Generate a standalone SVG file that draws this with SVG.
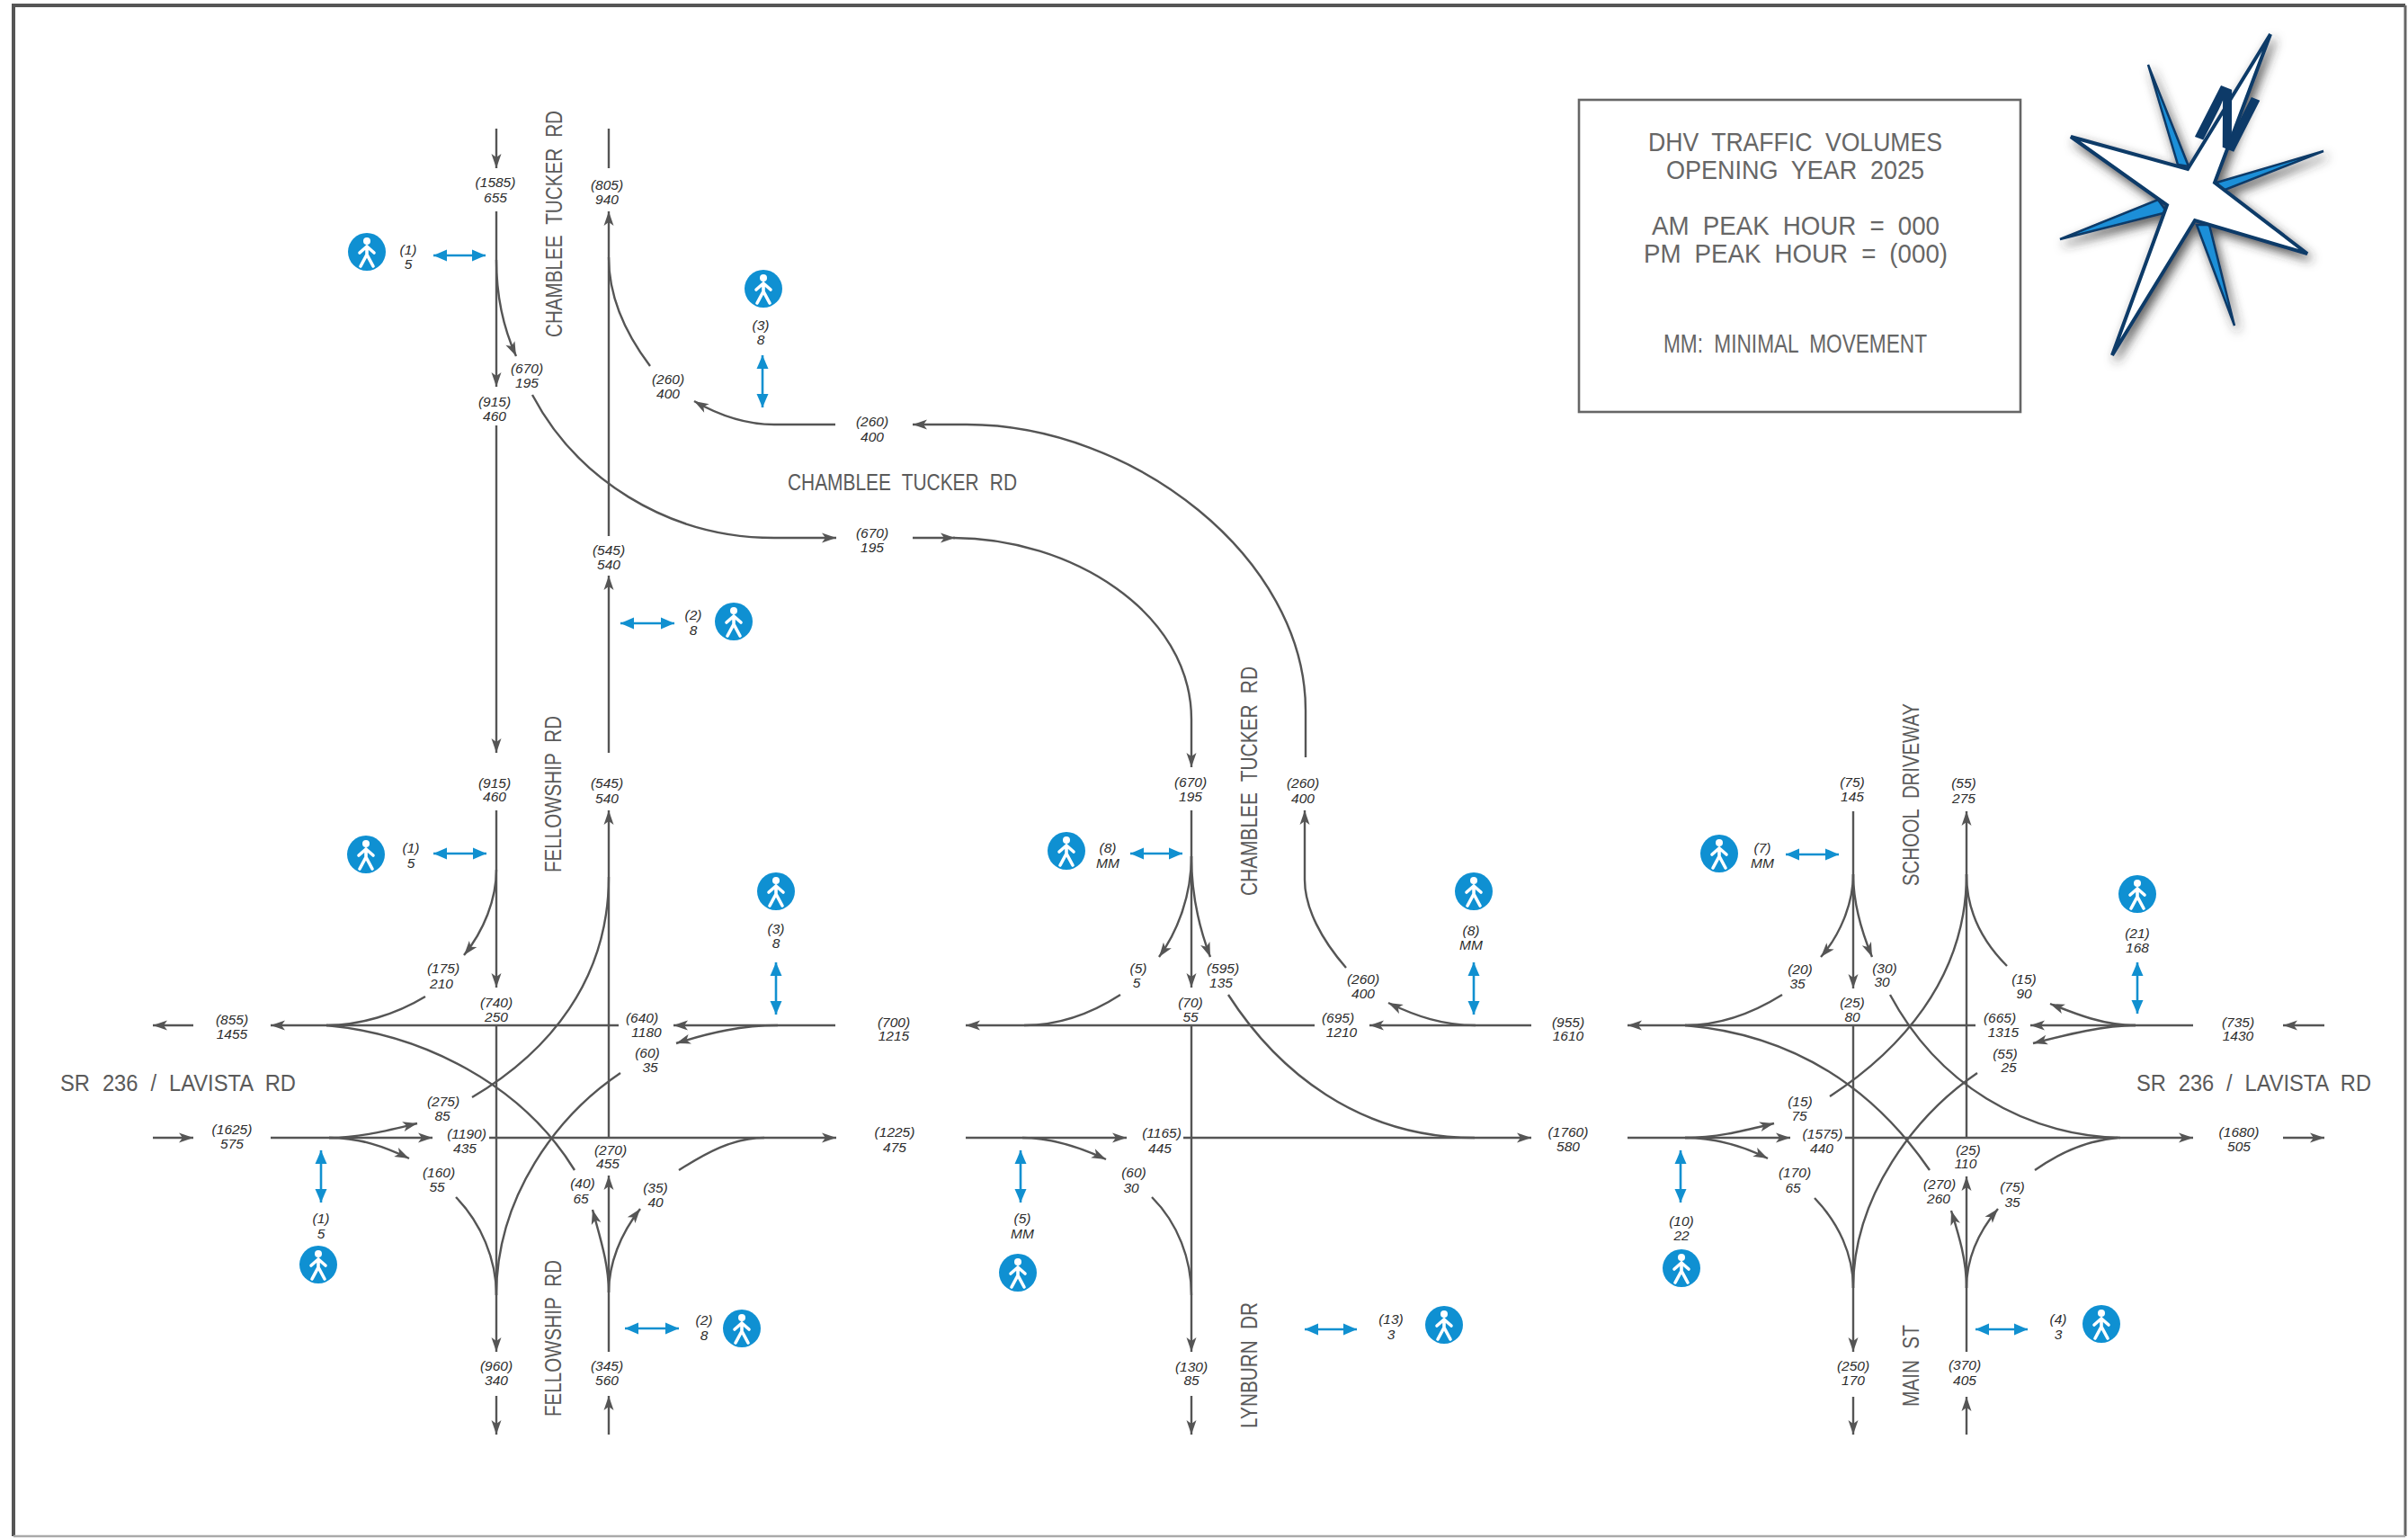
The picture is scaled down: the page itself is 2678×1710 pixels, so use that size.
<svg xmlns="http://www.w3.org/2000/svg" xmlns:xlink="http://www.w3.org/1999/xlink" width="2678" height="1710" viewBox="0 0 2678 1710">
<style>
.c{fill:none;stroke:#555;stroke-width:2.4}
.a{marker-end:url(#ah)}
.b{fill:none;stroke:#1190d0;stroke-width:2.6;marker-start:url(#bh);marker-end:url(#bh)}
.v{font:italic 15.5px "Liberation Sans",Arial,sans-serif;fill:#2c2c2c;text-anchor:middle}
.r{font:26px "Liberation Sans",Arial,sans-serif;fill:#5a5a5a;word-spacing:8px}
.t{font:30px "Liberation Sans",Arial,sans-serif;fill:#666;word-spacing:8px}
</style>
<defs>
<marker id="ah" viewBox="-17 -6 18 12" refX="0" refY="0" markerUnits="userSpaceOnUse" markerWidth="18" markerHeight="12" orient="auto"><path d="M0,0L-16,-5.5L-12,0L-16,5.5z" fill="#555"/></marker>
<marker id="bh" viewBox="-16 -7 17 14" refX="0" refY="0" markerUnits="userSpaceOnUse" markerWidth="17" markerHeight="14" orient="auto-start-reverse"><path d="M0,0L-15,-6.5L-15,6.5z" fill="#1190d0"/></marker>
<g id="ped"><circle r="21" fill="#0f90d2"/><circle cx="0" cy="-12" r="4" fill="#fff"/><path d="M0,-6L0,3M0,-6L-8,1M0,-6L8,1M0,3L-7,16M0,3L7,16" stroke="#fff" stroke-width="3.6" fill="none" stroke-linecap="round"/></g>
<filter id="sh" x="-20%" y="-20%" width="140%" height="140%"><feDropShadow dx="4" dy="6" stdDeviation="6" flood-color="#333" flood-opacity=".8"/></filter>
</defs>
<rect width="2678" height="1710" fill="#fff"/>
<g id="frame">
<path d="M15,1708L15,6L2675,6" fill="none" stroke="#555" stroke-width="4"/>
<path d="M2675,6L2675,1708" fill="none" stroke="#666" stroke-width="3"/>
<path d="M15,1708L2675,1708" fill="none" stroke="#aaa" stroke-width="2.5"/>
</g>
<g id="connectors">
<g id="north">
<path class="c a" d="M552,143L552,187"/>
<path class="c a" d="M552,235L552,430"/>
<path class="c a" d="M552,289C552,330 560,365 574,396"/>
<path class="c a" d="M552,473L552,837"/>
<path class="c" d="M677,143L677,187"/>
<path class="c a" d="M677,596L677,235"/>
<path class="c" d="M723,407C695,370 677,330 677,286"/>
<path class="c a" d="M592,439C640,530 740,598 861,598L930,598"/>
<path class="c a" d="M1015,598L1062,598"/>
<path class="c a" d="M1060,598C1190,598 1325,680 1325,800L1325,853"/>
<path class="c a" d="M1451,978L1451,901"/>
<path class="c" d="M1497,1076C1470,1045 1451,1010 1451,978"/>
<path class="c a" d="M1452,842L1452,790C1452,620 1260,472 1075,472L1015,472"/>
<path class="c a" d="M929,472L861,472C830,472 800,462 772,446"/>
<path class="c a" d="M677,837L677,640"/>
</g>
<g id="west">
<path class="c a" d="M552,901L552,1098"/>
<path class="c a" d="M552,967C552,1000 538,1035 516,1062"/>
<path class="c" d="M473,1108C440,1128 400,1140 363,1140"/>
<path class="c a" d="M688,1140L301,1140"/>
<path class="c" d="M639,1301C580,1205 470,1150 363,1140"/>
<path class="c a" d="M929,1140L749,1140"/>
<path class="c a" d="M865,1140C825,1140 790,1148 752,1160"/>
<path class="c a" d="M544,1265L930,1265"/>
<path class="c" d="M850,1265C815,1265 785,1282 755,1301"/>
<path class="c a" d="M301,1265L481,1265"/>
<path class="c a" d="M366,1265C400,1265 430,1257 464,1249"/>
<path class="c a" d="M366,1265C400,1265 428,1275 455,1288"/>
<path class="c a" d="M215,1140L170,1140"/>
<path class="c a" d="M170,1265L215,1265"/>
<path class="c a" d="M552,1140L552,1503"/>
<path class="c" d="M690,1193C620,1240 552,1330 552,1440"/>
<path class="c" d="M507,1331C535,1360 552,1400 552,1440"/>
<path class="c a" d="M677,1503L677,1307"/>
<path class="c a" d="M677,1437C677,1405 667,1375 659,1345"/>
<path class="c a" d="M677,1437C677,1405 690,1372 712,1344"/>
<path class="c a" d="M677,1265L677,901"/>
<path class="c" d="M525,1220C610,1170 677,1090 677,975"/>
<path class="c a" d="M552,1552L552,1595"/>
<path class="c a" d="M677,1595L677,1552"/>
</g>
<g id="center">
<path class="c a" d="M1325,901L1325,1098"/>
<path class="c a" d="M1325,952C1325,995 1310,1035 1289,1064"/>
<path class="c a" d="M1325,952C1325,995 1333,1030 1346,1064"/>
<path class="c" d="M1246,1106C1212,1128 1175,1140 1139,1140"/>
<path class="c a" d="M1462,1140L1074,1140"/>
<path class="c a" d="M1703,1140L1523,1140"/>
<path class="c a" d="M1641,1140C1605,1140 1575,1130 1544,1115"/>
<path class="c a" d="M1325,1140L1325,1503"/>
<path class="c" d="M1366,1106C1420,1190 1510,1265 1640,1265"/>
<path class="c a" d="M1316,1265L1703,1265"/>
<path class="c a" d="M1074,1265L1253,1265"/>
<path class="c a" d="M1137,1265C1170,1265 1200,1275 1230,1289"/>
<path class="c" d="M1281,1331C1310,1360 1325,1400 1325,1440"/>
<path class="c a" d="M1325,1552L1325,1595"/>
</g>
<g id="east">
<path class="c a" d="M2061,902L2061,1099"/>
<path class="c a" d="M2061,972C2061,1005 2046,1040 2025,1064"/>
<path class="c a" d="M2061,972C2061,1005 2070,1035 2082,1064"/>
<path class="c a" d="M2187,1265L2187,902"/>
<path class="c" d="M2035,1219C2110,1170 2187,1090 2187,972"/>
<path class="c" d="M2187,972C2187,1015 2205,1047 2232,1074"/>
<path class="c" d="M2102,1106C2155,1205 2250,1262 2358,1265"/>
<path class="c a" d="M2197,1140L1810,1140"/>
<path class="c" d="M1982,1106C1950,1126 1915,1140 1874,1140"/>
<path class="c" d="M2146,1301C2080,1205 1990,1150 1874,1140"/>
<path class="c a" d="M2439,1140L2258,1140"/>
<path class="c a" d="M2375,1140C2340,1140 2310,1128 2280,1116"/>
<path class="c a" d="M2375,1140C2340,1140 2300,1150 2261,1160"/>
<path class="c a" d="M2585,1140L2539,1140"/>
<path class="c a" d="M1810,1265L1991,1265"/>
<path class="c a" d="M1874,1265C1910,1265 1940,1257 1973,1249"/>
<path class="c a" d="M1874,1265C1910,1265 1940,1275 1966,1288"/>
<path class="c a" d="M2052,1265L2439,1265"/>
<path class="c" d="M2263,1301C2290,1282 2320,1268 2355,1265"/>
<path class="c a" d="M2539,1265L2585,1265"/>
<path class="c a" d="M2061,1140L2061,1503"/>
<path class="c" d="M2199,1193C2130,1240 2061,1330 2061,1432"/>
<path class="c" d="M2018,1332C2045,1360 2061,1395 2061,1432"/>
<path class="c a" d="M2187,1503L2187,1308"/>
<path class="c a" d="M2187,1432C2187,1400 2178,1372 2170,1346"/>
<path class="c a" d="M2187,1432C2187,1400 2200,1370 2222,1344"/>
<path class="c a" d="M2061,1553L2061,1595"/>
<path class="c a" d="M2187,1595L2187,1553"/>
</g>
<g id="crossings">
<path class="b" d="M482,284L540,284"/>
<path class="b" d="M848,395L848,453"/>
<path class="b" d="M690,693L750,693"/>
<path class="b" d="M482,949L541,949"/>
<path class="b" d="M863,1070L863,1128"/>
<path class="b" d="M357,1279L357,1337"/>
<path class="b" d="M695,1477L755,1477"/>
<path class="b" d="M1257,949L1315,949"/>
<path class="b" d="M1639,1070L1639,1128"/>
<path class="b" d="M1135,1279L1135,1337"/>
<path class="b" d="M1451,1478L1509,1478"/>
<path class="b" d="M1986,950L2045,950"/>
<path class="b" d="M2377,1070L2377,1127"/>
<path class="b" d="M1869,1279L1869,1337"/>
<path class="b" d="M2197,1478L2255,1478"/>
</g>
</g>
<g id="peds">
<use id="ped-1" xlink:href="#ped" href="#ped" x="408" y="280"/>
<use id="ped-2" xlink:href="#ped" href="#ped" x="849" y="321"/>
<use id="ped-3" xlink:href="#ped" href="#ped" x="816" y="691"/>
<use id="ped-4" xlink:href="#ped" href="#ped" x="407" y="950"/>
<use id="ped-5" xlink:href="#ped" href="#ped" x="863" y="991"/>
<use id="ped-6" xlink:href="#ped" href="#ped" x="354" y="1406"/>
<use id="ped-7" xlink:href="#ped" href="#ped" x="825" y="1477"/>
<use id="ped-8" xlink:href="#ped" href="#ped" x="1186" y="946"/>
<use id="ped-9" xlink:href="#ped" href="#ped" x="1639" y="991"/>
<use id="ped-10" xlink:href="#ped" href="#ped" x="1132" y="1415"/>
<use id="ped-11" xlink:href="#ped" href="#ped" x="1606" y="1473"/>
<use id="ped-12" xlink:href="#ped" href="#ped" x="1912" y="949"/>
<use id="ped-13" xlink:href="#ped" href="#ped" x="2377" y="994"/>
<use id="ped-14" xlink:href="#ped" href="#ped" x="1870" y="1410"/>
<use id="ped-15" xlink:href="#ped" href="#ped" x="2337" y="1472"/>
</g>
<g id="labels">
<text class="v" x="551" y="208">(1585)</text><text class="v" x="551" y="225">655</text>
<text class="v" x="675" y="211">(805)</text><text class="v" x="675" y="227">940</text>
<text class="v" x="454" y="283">(1)</text><text class="v" x="454" y="299">5</text>
<text class="v" x="586" y="415">(670)</text><text class="v" x="586" y="431">195</text>
<text class="v" x="550" y="452">(915)</text><text class="v" x="550" y="468">460</text>
<text class="v" x="846" y="367">(3)</text><text class="v" x="846" y="383">8</text>
<text class="v" x="743" y="427">(260)</text><text class="v" x="743" y="443">400</text>
<text class="v" x="970" y="474">(260)</text><text class="v" x="970" y="491">400</text>
<text class="v" x="970" y="598">(670)</text><text class="v" x="970" y="614">195</text>
<text class="v" x="677" y="617">(545)</text><text class="v" x="677" y="633">540</text>
<text class="v" x="771" y="689">(2)</text><text class="v" x="771" y="706">8</text>
<text class="v" x="550" y="876">(915)</text><text class="v" x="550" y="891">460</text>
<text class="v" x="675" y="876">(545)</text><text class="v" x="675" y="893">540</text>
<text class="v" x="457" y="948">(1)</text><text class="v" x="457" y="965">5</text>
<text class="v" x="863" y="1038">(3)</text><text class="v" x="863" y="1054">8</text>
<text class="v" x="493" y="1082">(175)</text><text class="v" x="491" y="1099">210</text>
<text class="v" x="552" y="1120">(740)</text><text class="v" x="552" y="1136">250</text>
<text class="v" x="258" y="1139">(855)</text><text class="v" x="258" y="1155">1455</text>
<text class="v" x="714" y="1137">(640)</text><text class="v" x="719" y="1153">1180</text>
<text class="v" x="994" y="1142">(700)</text><text class="v" x="994" y="1157">1215</text>
<text class="v" x="720" y="1176">(60)</text><text class="v" x="723" y="1192">35</text>
<text class="v" x="493" y="1230">(275)</text><text class="v" x="492" y="1246">85</text>
<text class="v" x="258" y="1261">(1625)</text><text class="v" x="258" y="1277">575</text>
<text class="v" x="519" y="1266">(1190)</text><text class="v" x="517" y="1282">435</text>
<text class="v" x="995" y="1264">(1225)</text><text class="v" x="995" y="1281">475</text>
<text class="v" x="679" y="1284">(270)</text><text class="v" x="676" y="1299">455</text>
<text class="v" x="488" y="1309">(160)</text><text class="v" x="486" y="1325">55</text>
<text class="v" x="648" y="1321">(40)</text><text class="v" x="646" y="1338">65</text>
<text class="v" x="729" y="1326">(35)</text><text class="v" x="729" y="1342">40</text>
<text class="v" x="357" y="1360">(1)</text><text class="v" x="357" y="1377">5</text>
<text class="v" x="783" y="1473">(2)</text><text class="v" x="783" y="1490">8</text>
<text class="v" x="552" y="1524">(960)</text><text class="v" x="552" y="1540">340</text>
<text class="v" x="675" y="1524">(345)</text><text class="v" x="675" y="1540">560</text>
<text class="v" x="1324" y="875">(670)</text><text class="v" x="1324" y="891">195</text>
<text class="v" x="1449" y="876">(260)</text><text class="v" x="1449" y="893">400</text>
<text class="v" x="1232" y="948">(8)</text><text class="v" x="1232" y="965">MM</text>
<text class="v" x="1636" y="1040">(8)</text><text class="v" x="1636" y="1056">MM</text>
<text class="v" x="1266" y="1082">(5)</text><text class="v" x="1264" y="1098">5</text>
<text class="v" x="1360" y="1082">(595)</text><text class="v" x="1358" y="1098">135</text>
<text class="v" x="1516" y="1094">(260)</text><text class="v" x="1516" y="1110">400</text>
<text class="v" x="1324" y="1120">(70)</text><text class="v" x="1324" y="1136">55</text>
<text class="v" x="1488" y="1137">(695)</text><text class="v" x="1492" y="1153">1210</text>
<text class="v" x="1744" y="1142">(955)</text><text class="v" x="1744" y="1157">1610</text>
<text class="v" x="1292" y="1265">(1165)</text><text class="v" x="1290" y="1282">445</text>
<text class="v" x="1744" y="1264">(1760)</text><text class="v" x="1744" y="1280">580</text>
<text class="v" x="1261" y="1309">(60)</text><text class="v" x="1258" y="1326">30</text>
<text class="v" x="1137" y="1360">(5)</text><text class="v" x="1137" y="1377">MM</text>
<text class="v" x="1547" y="1472">(13)</text><text class="v" x="1547" y="1489">3</text>
<text class="v" x="1325" y="1525">(130)</text><text class="v" x="1325" y="1540">85</text>
<text class="v" x="2060" y="875">(75)</text><text class="v" x="2060" y="891">145</text>
<text class="v" x="2184" y="876">(55)</text><text class="v" x="2184" y="893">275</text>
<text class="v" x="1960" y="948">(7)</text><text class="v" x="1960" y="965">MM</text>
<text class="v" x="2377" y="1043">(21)</text><text class="v" x="2377" y="1059">168</text>
<text class="v" x="2002" y="1083">(20)</text><text class="v" x="1999" y="1099">35</text>
<text class="v" x="2096" y="1082">(30)</text><text class="v" x="2093" y="1097">30</text>
<text class="v" x="2251" y="1094">(15)</text><text class="v" x="2251" y="1110">90</text>
<text class="v" x="2060" y="1120">(25)</text><text class="v" x="2060" y="1136">80</text>
<text class="v" x="2224" y="1137">(665)</text><text class="v" x="2228" y="1153">1315</text>
<text class="v" x="2489" y="1142">(735)</text><text class="v" x="2489" y="1157">1430</text>
<text class="v" x="2230" y="1177">(55)</text><text class="v" x="2234" y="1192">25</text>
<text class="v" x="2002" y="1230">(15)</text><text class="v" x="2001" y="1246">75</text>
<text class="v" x="2027" y="1266">(1575)</text><text class="v" x="2026" y="1282">440</text>
<text class="v" x="2490" y="1264">(1680)</text><text class="v" x="2490" y="1280">505</text>
<text class="v" x="2189" y="1284">(25)</text><text class="v" x="2186" y="1299">110</text>
<text class="v" x="1996" y="1309">(170)</text><text class="v" x="1994" y="1326">65</text>
<text class="v" x="2157" y="1322">(270)</text><text class="v" x="2156" y="1338">260</text>
<text class="v" x="2238" y="1325">(75)</text><text class="v" x="2238" y="1342">35</text>
<text class="v" x="1870" y="1363">(10)</text><text class="v" x="1870" y="1379">22</text>
<text class="v" x="2289" y="1472">(4)</text><text class="v" x="2289" y="1489">3</text>
<text class="v" x="2061" y="1524">(250)</text><text class="v" x="2061" y="1540">170</text>
<text class="v" x="2185" y="1523">(370)</text><text class="v" x="2185" y="1540">405</text>
</g>
<g id="roads">
<text class="r" transform="translate(625,375) rotate(-90)" textLength="252" lengthAdjust="spacingAndGlyphs">CHAMBLEE TUCKER RD</text>
<text class="r" x="876" y="545" textLength="255" lengthAdjust="spacingAndGlyphs">CHAMBLEE TUCKER RD</text>
<text class="r" transform="translate(624,970) rotate(-90)" textLength="174" lengthAdjust="spacingAndGlyphs">FELLOWSHIP RD</text>
<text class="r" transform="translate(624,1575) rotate(-90)" textLength="174" lengthAdjust="spacingAndGlyphs">FELLOWSHIP RD</text>
<text class="r" transform="translate(1398,996) rotate(-90)" textLength="255" lengthAdjust="spacingAndGlyphs">CHAMBLEE TUCKER RD</text>
<text class="r" transform="translate(1398,1588) rotate(-90)" textLength="140" lengthAdjust="spacingAndGlyphs">LYNBURN DR</text>
<text class="r" transform="translate(2134,985) rotate(-90)" textLength="203" lengthAdjust="spacingAndGlyphs">SCHOOL DRIVEWAY</text>
<text class="r" transform="translate(2134,1564) rotate(-90)" textLength="91" lengthAdjust="spacingAndGlyphs">MAIN ST</text>
<text class="r" x="67" y="1213" textLength="262" lengthAdjust="spacingAndGlyphs">SR 236 / LAVISTA RD</text>
<text class="r" x="2376" y="1213" textLength="261" lengthAdjust="spacingAndGlyphs">SR 236 / LAVISTA RD</text>
</g>
<g id="legend">
<rect x="1756" y="111" width="491" height="347" fill="#fff" stroke="#666" stroke-width="2.6"/>
<text class="t" x="1833" y="168" textLength="327" lengthAdjust="spacingAndGlyphs">DHV TRAFFIC VOLUMES</text>
<text class="t" x="1853" y="199" textLength="287" lengthAdjust="spacingAndGlyphs">OPENING YEAR 2025</text>
<text class="t" x="1837" y="261" textLength="320" lengthAdjust="spacingAndGlyphs">AM PEAK HOUR = 000</text>
<text class="t" x="1828" y="292" textLength="338" lengthAdjust="spacingAndGlyphs">PM PEAK HOUR = (000)</text>
<text class="t" x="1850" y="392" textLength="293" lengthAdjust="spacingAndGlyphs">MM: MINIMAL MOVEMENT</text>
</g>
<g id="north-star">
<g filter="url(#sh)">
<path d="M2389,72L2422,183L2434,185zM2584,168L2465,203L2472,212zM2291,266L2400,222L2410,236zM2485,362L2443,250L2457,250z" fill="#1a8fd8" stroke="#0b3a68" stroke-width="2.5" stroke-linejoin="miter"/>
<path d="M2525,38L2463,203L2566,282L2441,245L2349,395L2410,228L2303,152L2433,188z" fill="#fff" stroke="#0b3a68" stroke-width="4" stroke-linejoin="miter"/>
</g>
<text x="0" y="0" transform="matrix(.8,.31,-.46,.9,2436,150)" font-family="Liberation Sans, Arial, sans-serif" font-weight="bold" font-size="92" fill="#0d3a68">N</text>
</g>
</svg>
